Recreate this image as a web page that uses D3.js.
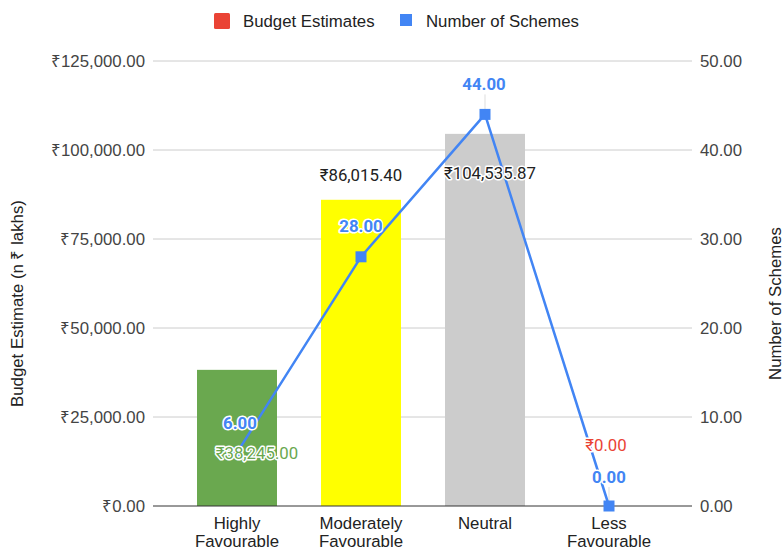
<!DOCTYPE html>
<html>
<head>
<meta charset="utf-8">
<script src="https://cdn.jsdelivr.net/npm/d3@7"></script>
<style>
  html, body { margin: 0; padding: 0; background: #fff; }
  svg { display: block; }
</style>
</head>
<body>
<div id="chart"></div>
<script>
const categories = [["Highly", "Favourable"], ["Moderately", "Favourable"], ["Neutral"], ["Less", "Favourable"]];
const budgetEstimates = [38245.00, 86015.40, 104535.87, 0];
const numberOfSchemes = [6, 28, 44, 0];
const budgetTicks = [0, 25000, 50000, 75000, 100000, 125000];
const schemeTicks = [0, 10, 20, 30, 40, 50];
const barColors = ["#6aa84f", "#ffff00", "#cccccc", "#ea4335"];
const budgetLabelColors = ["#6aa84f", "#222222", "#222222", "#ea4335"];
const seriesNames = ["Budget Estimates", "Number of Schemes"];

const W = 783, H = 548;
const plot = { left: 153, right: 692, top: 61, bottom: 506 };
const catKeys = categories.map(c => c.join(" "));

const svg = d3.select("#chart").append("svg").attr("width", W).attr("height", H);

const x = d3.scaleBand().domain(catKeys).range([175, 671]).paddingInner(0.355).paddingOuter(0.1775);
const yL = d3.scaleLinear().domain([0, 125000]).range([plot.bottom, plot.top]);
const yR = d3.scaleLinear().domain([0, 50]).range([plot.bottom, plot.top]);

const axisFont = "'Liberation Sans', Arial, sans-serif";
const dataFont = "Roboto, 'Liberation Sans', Arial, sans-serif";
const FS = 16.8;
const inr = v => "₹" + d3.format(",.2f")(v);

// gridlines
svg.append("g").selectAll("line").data(budgetTicks.filter(t => t > 0)).join("line")
  .attr("x1", plot.left).attr("x2", plot.right)
  .attr("y1", d => yL(d)).attr("y2", d => yL(d))
  .attr("stroke", "#cccccc").attr("stroke-width", 1);

// left axis labels
svg.append("g").selectAll("text").data(budgetTicks).join("text")
  .attr("x", 145).attr("y", d => yL(d) + 6)
  .attr("text-anchor", "end")
  .attr("font-family", axisFont).attr("font-size", FS).attr("fill", "#444")
  .text(d => inr(d));

// right axis labels
svg.append("g").selectAll("text").data(schemeTicks).join("text")
  .attr("x", 700).attr("y", d => yR(d) + 6)
  .attr("text-anchor", "start")
  .attr("font-family", axisFont).attr("font-size", FS).attr("fill", "#444")
  .text(d => d3.format(".2f")(d));

// axis titles
svg.append("text")
  .attr("transform", `translate(23,${(plot.top + plot.bottom) / 2 + 20}) rotate(-90)`)
  .attr("text-anchor", "middle")
  .attr("font-family", axisFont).attr("font-size", FS).attr("fill", "#222")
  .text("Budget Estimate (n ₹ lakhs)");
svg.append("text")
  .attr("transform", `translate(781,${(plot.top + plot.bottom) / 2 + 20}) rotate(-90)`)
  .attr("text-anchor", "middle")
  .attr("font-family", axisFont).attr("font-size", FS).attr("fill", "#222")
  .text("Number of Schemes");

// bars
svg.append("g").selectAll("rect").data(budgetEstimates).join("rect")
  .attr("x", (d, i) => x(catKeys[i]))
  .attr("y", d => yL(d))
  .attr("width", x.bandwidth())
  .attr("height", d => plot.bottom - yL(d))
  .attr("fill", (d, i) => barColors[i]);

// baseline
svg.append("line")
  .attr("x1", plot.left).attr("x2", plot.right)
  .attr("y1", plot.bottom).attr("y2", plot.bottom)
  .attr("stroke", "#333").attr("stroke-width", 1);

// category labels
const catG = svg.append("g");
categories.forEach((lines, i) => {
  const cx = x(catKeys[i]) + x.bandwidth() / 2;
  const t = catG.append("text")
    .attr("x", cx)
    .attr("y", 529)
    .attr("text-anchor", "middle")
    .attr("font-family", axisFont).attr("font-size", FS).attr("fill", "#222");
  lines.forEach((ln, j) => {
    t.append("tspan").attr("x", cx).attr("dy", j === 0 ? 0 : 17.5).text(ln);
  });
});

// line series
const pts = numberOfSchemes.map((v, i) => [x(catKeys[i]) + x.bandwidth() / 2, yR(v)]);

// leader lines for scheme labels (visible only where reference shows them)
const lineLabelOffsets = [[3, -24], [0, -25], [-1, -24], [0, -23]];
const leaderIdx = [2, 3];
svg.append("g").selectAll("line").data(leaderIdx).join("line")
  .attr("x1", i => pts[i][0]).attr("x2", i => pts[i][0])
  .attr("y1", i => pts[i][1] + lineLabelOffsets[i][1] + 4)
  .attr("y2", i => pts[i][1] - 5)
  .attr("stroke", "#dddddd").attr("stroke-width", 1);

svg.append("path")
  .attr("d", d3.line()(pts))
  .attr("fill", "none").attr("stroke", "#4285f4").attr("stroke-width", 2.5)
  .attr("stroke-linejoin", "round");

svg.append("g").selectAll("rect").data(pts).join("rect")
  .attr("x", d => d[0] - 5.5).attr("y", d => d[1] - 5.5)
  .attr("width", 11).attr("height", 11)
  .attr("fill", "#4285f4");

// bar value labels (anchored to line point for first, bar top otherwise)
const barLabelOffsets = [[20, 6], [0, -19], [5, 45], [-3, -55]];
svg.append("g").selectAll("text").data(budgetEstimates).join("text")
  .attr("x", (d, i) => x(catKeys[i]) + x.bandwidth() / 2 + barLabelOffsets[i][0])
  .attr("y", (d, i) => (i === 0 ? yR(numberOfSchemes[0]) : i === 3 ? plot.bottom : yL(d)) + barLabelOffsets[i][1])
  .attr("text-anchor", "middle")
  .attr("font-family", dataFont).attr("font-size", FS)
  .attr("fill", (d, i) => budgetLabelColors[i])
  .attr("stroke", "#fff").attr("stroke-width", 3).attr("paint-order", "stroke")
  .attr("stroke-linejoin", "round")
  .text(d => inr(d));

// scheme labels
svg.append("g").selectAll("text").data(numberOfSchemes).join("text")
  .attr("x", (d, i) => pts[i][0] + lineLabelOffsets[i][0])
  .attr("y", (d, i) => pts[i][1] + lineLabelOffsets[i][1])
  .attr("text-anchor", "middle")
  .attr("font-family", dataFont).attr("font-size", FS).attr("font-weight", "bold")
  .attr("fill", "#4285f4")
  .attr("stroke", "#fff").attr("stroke-width", 3).attr("paint-order", "stroke")
  .attr("stroke-linejoin", "round")
  .text(d => d3.format(".2f")(d));

// legend
const lg = svg.append("g");
lg.append("rect").attr("x", 214).attr("y", 13).attr("width", 16).attr("height", 16).attr("rx", 1.5).attr("fill", "#ea4335");
lg.append("text").attr("x", 243).attr("y", 27).attr("font-family", axisFont).attr("font-size", FS).attr("fill", "#222").text(seriesNames[0]);
lg.append("rect").attr("x", 400).attr("y", 14).attr("width", 12).attr("height", 12).attr("fill", "#4285f4");
lg.append("text").attr("x", 426).attr("y", 27).attr("font-family", axisFont).attr("font-size", FS).attr("fill", "#222").text(seriesNames[1]);
</script>
</body>
</html>
